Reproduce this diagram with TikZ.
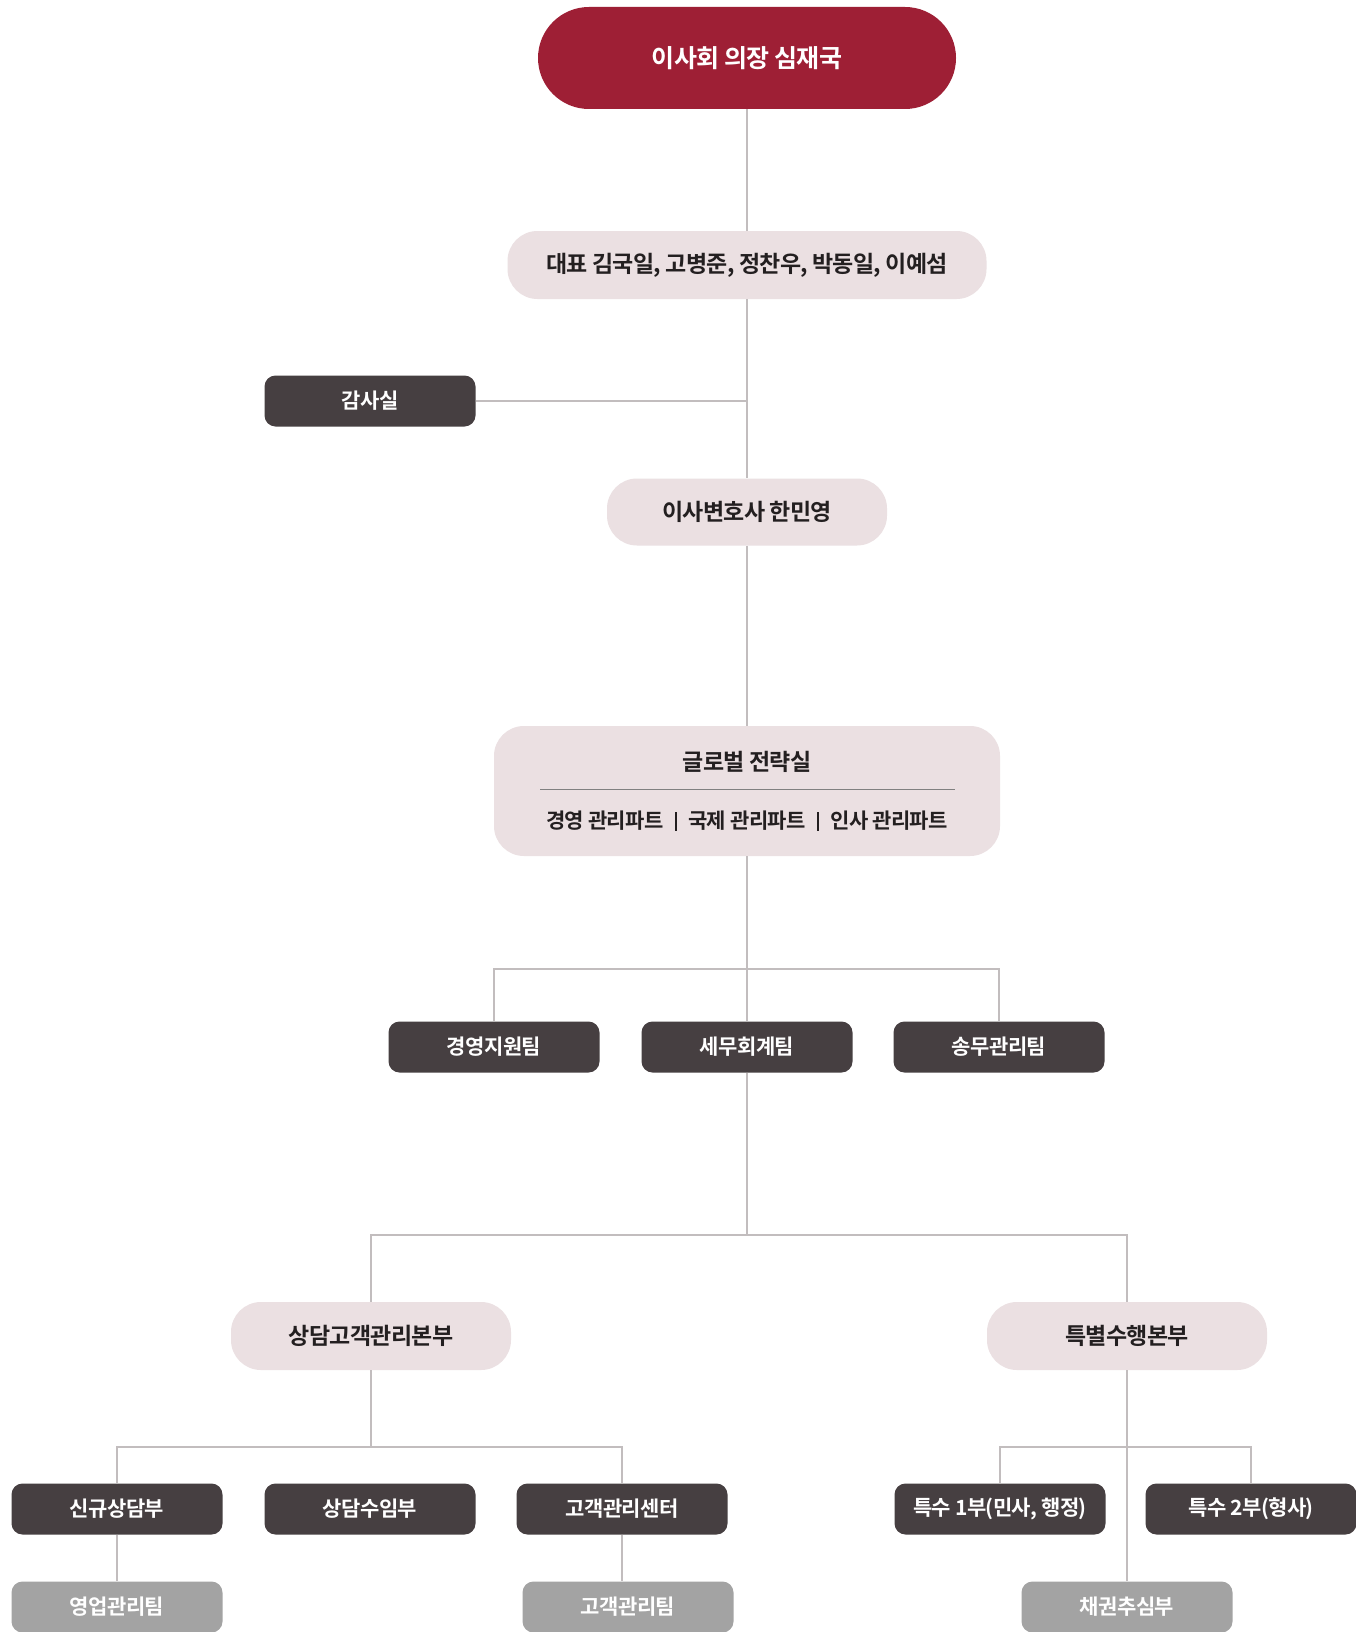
\documentclass[tikz,border=0pt]{standalone}
\usepackage{fontspec}
\setmainfont{Noto Sans CJK KR}[BoldFont={Noto Sans CJK KR Bold},LetterSpace=-3]
\definecolor{chairred}{HTML}{9E1F35}
\definecolor{softpink}{HTML}{EBE0E2}
\definecolor{teamdark}{HTML}{463F41}
\definecolor{subgray}{HTML}{A3A3A3}
\definecolor{linegray}{HTML}{C2BDBE}
\definecolor{textdark}{HTML}{231F20}
\newcommand{\partbar}{\hspace{11pt}\rule[-2pt]{2.6pt}{19pt}\hspace{11pt}}

\begin{document}
\begin{tikzpicture}[x=1pt,y=-1pt,
  link/.style={draw=linegray,line width=1.2pt},
  pill/.style={fill=softpink,rounded corners=30pt,minimum height=68pt,inner sep=0pt,text=textdark,font=\bfseries\fontsize{23}{27}\selectfont},
  team/.style={fill=teamdark,rounded corners=11pt,minimum width=211pt,minimum height=51pt,inner sep=0pt,text=white,font=\bfseries\fontsize{21}{25}\selectfont},
  subteam/.style={team,fill=subgray}]
\fill[white] (0,0) rectangle (1355,1632);
\useasboundingbox (0,0) rectangle (1355,1632);

\node[fill=chairred,rounded corners=51pt,minimum width=418pt,minimum height=102pt,inner sep=0pt,text=white,font=\bfseries\fontsize{25}{30}\selectfont] (chair) at (747,58) {이사회 의장 심재국};
\node[pill,minimum width=479pt] (ceo) at (747,265) {대표 김국일, 고병준, 정찬우, 박동일, 이예섬};
\node[team] (audit) at (370,401) {감사실};
\node[pill,minimum width=280pt,minimum height=67pt] (lawyer) at (747,512) {이사변호사 한민영};

\node[pill,minimum width=506pt,minimum height=130pt] (gso) at (747,791) {};
\node[text=textdark,font=\bfseries\fontsize{23}{27}\selectfont] (gsotitle) at (747,762) {글로벌 전략실};
\node[text=textdark,font=\bfseries\fontsize{21}{25}\selectfont] (gsoparts) at (747,821) {경영 관리파트\partbar 국제 관리파트\partbar 인사 관리파트};
\draw[draw=gray,line width=1pt] (540,789) -- (955,789);

\node[team] (mgmt) at (494,1047) {경영지원팀};
\node[team] (tax) at (747,1047) {세무회계팀};
\node[team] (suit) at (999,1047) {송무관리팀};

\node[pill,minimum width=280pt] (consult) at (371,1336) {상담고객관리본부};
\node[pill,minimum width=280pt] (special) at (1127,1336) {특별수행본부};

\node[team] (newc) at (117,1509) {신규상담부};
\node[team] (intake) at (370,1509) {상담수임부};
\node[team] (care) at (622,1509) {고객관리센터};
\node[subteam] (sales) at (117,1607) {영업관리팀};
\node[subteam] (careteam) at (628,1607) {고객관리팀};
\node[team] (spec1) at (1000,1509) {특수 1부(민사, 행정)};
\node[team] (spec2) at (1251,1509) {특수 2부(형사)};
\node[subteam] (debt) at (1127,1607) {채권추심부};

\coordinate (teambar) at (747,969);
\coordinate (unitbar) at (747,1235);
\coordinate (leftbar) at (371,1447);
\coordinate (rightbar) at (1127,1447);

\draw[link] (chair) -- (ceo);
\draw[link] (ceo) -- (lawyer);
\draw[link] (audit.east) -- (audit.east -| ceo.south);
\draw[link] (lawyer) -- (gso);
\draw[link] (gso) -- (tax);
\draw[link] (mgmt.north) |- (teambar) -| (suit.north);
\draw[link] (tax) -- (unitbar);
\draw[link] (consult.north) |- (unitbar) -| (special.north);
\draw[link] (consult) -- (leftbar);
\draw[link] (newc.north) |- (leftbar) -| (care.north);
\draw[link] (newc) -- (sales);
\draw[link] (care.south) -- (care.south |- careteam.north);
\draw[link] (special) -- (debt);
\draw[link] (spec1.north) |- (rightbar) -| (spec2.north);
\end{tikzpicture}
\end{document}
